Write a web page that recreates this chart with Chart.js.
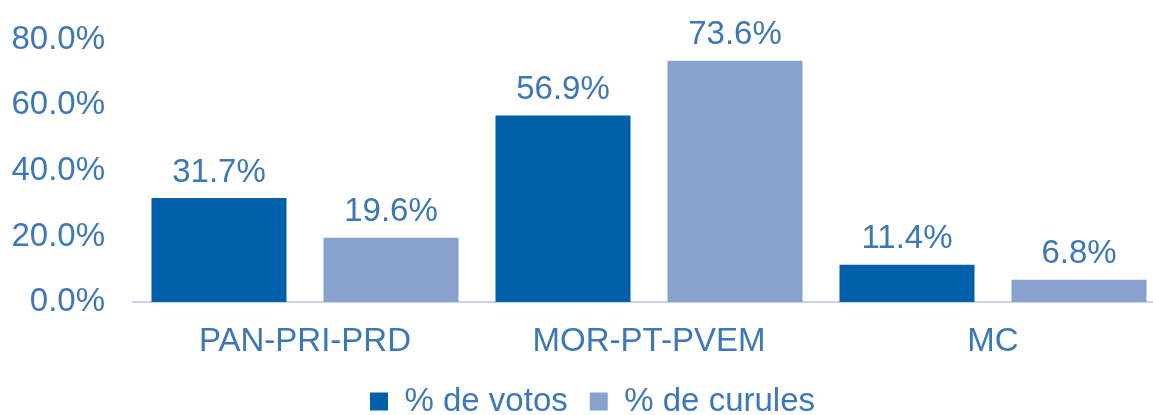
<!DOCTYPE html>
<html>
<head>
<meta charset="utf-8">
<script src="https://cdn.jsdelivr.net/npm/chart.js@4"></script>
<style>
    html, body { margin: 0; padding: 0; background: #fff; overflow: hidden; }
    /* o gráfico original é cortado na borda direita */
    #wrap { width: 1165px; height: 415px; }
</style>
</head>
<body>
<div id="wrap"><canvas id="grafico"></canvas></div>
<script>
// Dados do gráfico
const categorias = ['PAN-PRI-PRD', 'MOR-PT-PVEM', 'MC'];
const votos = [31.7, 56.9, 11.4];
const curules = [19.6, 73.6, 6.8];
const rotulosSeries = ['% de votos', '% de curules'];

const corTexto = '#3C77B7';
const fonte = 'Liberation Sans, Arial, sans-serif';
const tamanho = 33;

// Rótulos acima das barras
const rotulosBarras = {
    id: 'rotulosBarras',
    afterDatasetsDraw(chart) {
        const ctx = chart.ctx;
        ctx.save();
        ctx.fillStyle = corTexto;
        ctx.font = tamanho + 'px ' + fonte;
        ctx.textAlign = 'center';
        ctx.textBaseline = 'bottom';
        chart.data.datasets.forEach((ds, i) => {
            chart.getDatasetMeta(i).data.forEach((bar, j) => {
                ctx.fillText(ds.data[j].toFixed(1) + '%', bar.x, bar.y - 9);
            });
        });
        ctx.restore();
    }
};

// Legenda mais baixa e um pouco à direita
const ajusteLegenda = {
    id: 'ajusteLegenda',
    beforeLayout(chart) {
        const legenda = chart.legend;
        if (!legenda || legenda._ajustada) return;
        const fitOriginal = legenda.fit;
        legenda.fit = function () {
            fitOriginal.call(this);
            this.height -= 13;
        };
        const drawOriginal = legenda.draw;
        legenda.draw = function () {
            const ctx = this.ctx;
            ctx.save();
            ctx.translate(10, 0);
            drawOriginal.apply(this, arguments);
            ctx.restore();
        };
        legenda._ajustada = true;
    }
};

new Chart(document.getElementById('grafico'), {
    type: 'bar',
    data: {
        labels: categorias,
        datasets: [{
            label: rotulosSeries[0],
            data: votos,
            backgroundColor: '#0060A9',
            categoryPercentage: 1.0,
            barPercentage: 0.785
        }, {
            label: rotulosSeries[1],
            data: curules,
            backgroundColor: '#87A2CF',
            categoryPercentage: 1.0,
            barPercentage: 0.785
        }]
    },
    options: {
        responsive: true,
        maintainAspectRatio: false,
        animation: false,
        layout: {
            padding: { top: 16, right: 0, left: 0, bottom: 0 }
        },
        plugins: {
            legend: {
                position: 'bottom',
                labels: {
                    color: corTexto,
                    font: { size: tamanho, family: fonte },
                    boxWidth: 18,
                    boxHeight: 18,
                    padding: 22
                }
            },
            tooltip: { enabled: false }
        },
        scales: {
            x: {
                grid: { display: false },
                border: { color: '#C8D4EA', width: 2 },
                ticks: {
                    color: corTexto,
                    font: { size: tamanho, family: fonte },
                    padding: 12
                },
                afterFit: function (scale) {
                    scale.height = 61;
                }
            },
            y: {
                min: 0,
                max: 80,
                grid: { display: false },
                border: { display: false },
                ticks: {
                    stepSize: 20,
                    color: corTexto,
                    font: { size: tamanho, family: fonte },
                    padding: 20,
                    callback: function (value) {
                        return value.toFixed(1) + '%';
                    }
                },
                afterFit: function (scale) {
                    scale.width = 133;
                }
            }
        }
    },
    plugins: [rotulosBarras, ajusteLegenda]
});
</script>
</body>
</html>
